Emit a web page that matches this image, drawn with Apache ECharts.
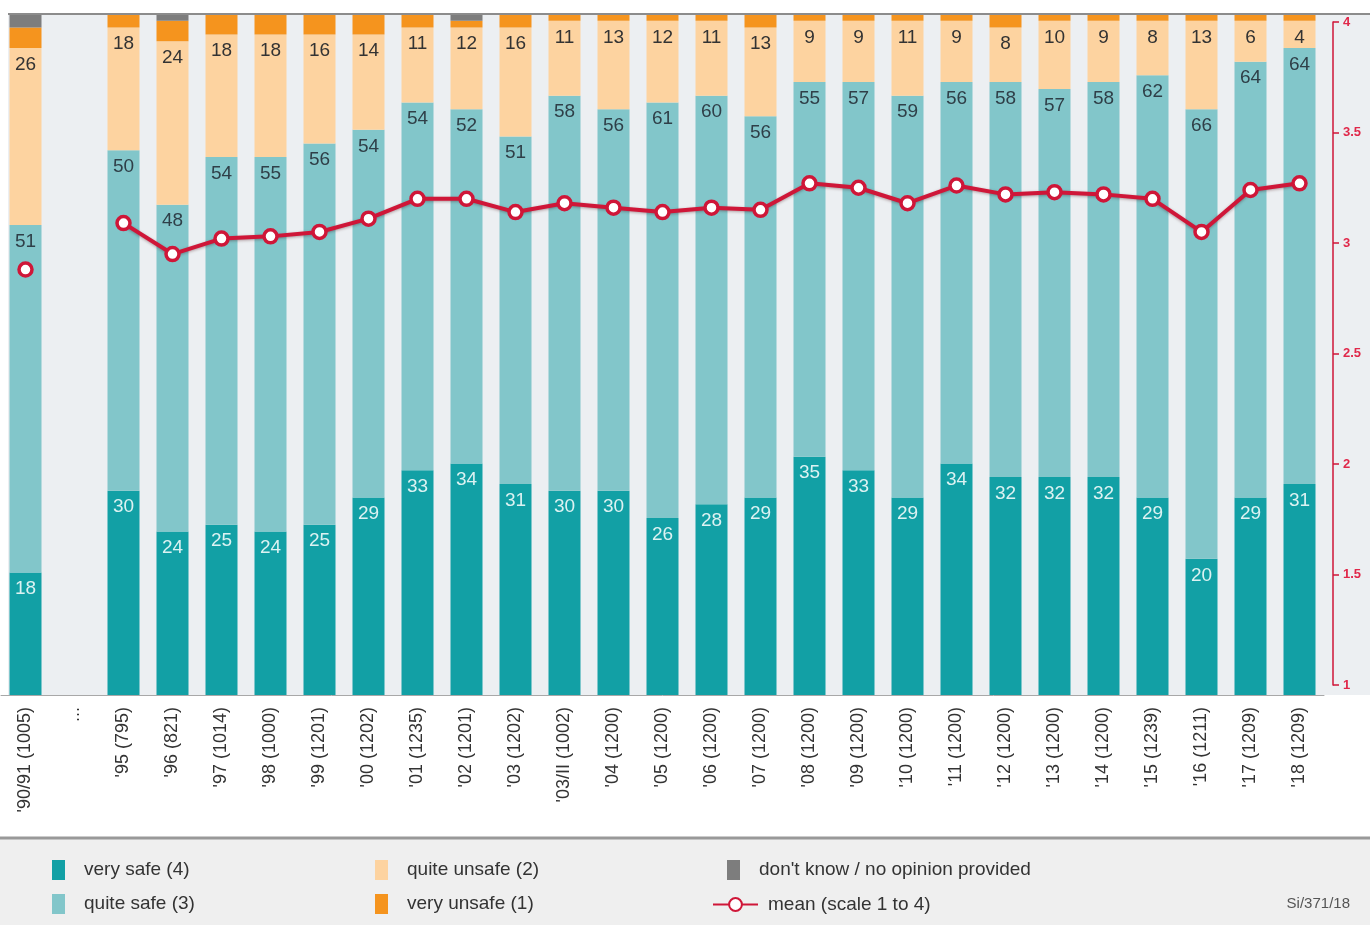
<!DOCTYPE html>
<html>
<head>
<meta charset="utf-8">
<script src="https://cdn.jsdelivr.net/npm/echarts@6/dist/echarts.min.js"></script>
<style>
  html, body { margin: 0; padding: 0; background: #fff; }
</style>
</head>
<body>
<div id="main" style="width: 1370px; height: 925px"></div>
<script>
// survey waves (sample size in brackets)
var categories = ["'90/91 (1005)", '...', "'95 (795)", "'96 (821)", "'97 (1014)", "'98 (1000)", "'99 (1201)",
  "'00 (1202)", "'01 (1235)", "'02 (1201)", "'03 (1202)", "'03/II (1002)", "'04 (1200)", "'05 (1200)",
  "'06 (1200)", "'07 (1200)", "'08 (1200)", "'09 (1200)", "'10 (1200)", "'11 (1200)", "'12 (1200)",
  "'13 (1200)", "'14 (1200)", "'15 (1239)", "'16 (1211)", "'17 (1209)", "'18 (1209)"]

var verySafe    = [18, null, 30, 24, 25, 24, 25, 29, 33, 34, 31, 30, 30, 26, 28, 29, 35, 33, 29, 34, 32, 32, 32, 29, 20, 29, 31]
var quiteSafe   = [51, null, 50, 48, 54, 55, 56, 54, 54, 52, 51, 58, 56, 61, 60, 56, 55, 57, 59, 56, 58, 57, 58, 62, 66, 64, 64]
var quiteUnsafe = [26, null, 18, 24, 18, 18, 16, 14, 11, 12, 16, 11, 13, 12, 11, 13, 9, 9, 11, 9, 8, 10, 9, 8, 13, 6, 4]
var veryUnsafe  = [3, null, 2, 3, 3, 3, 3, 3, 2, 1, 2, 1, 1, 1, 1, 2, 1, 1, 1, 1, 2, 1, 1, 1, 1, 1, 1]
var dontKnow    = [2, null, 0, 1, 0, 0, 0, 0, 0, 1, 0, 0, 0, 0, 0, 0, 0, 0, 0, 0, 0, 0, 0, 0, 0, 0, 0]
// mean on scale 1 to 4
var meanScore   = [2.88, null, 3.09, 2.95, 3.02, 3.03, 3.05, 3.11, 3.20, 3.20, 3.14, 3.18, 3.16, 3.14, 3.16,
  3.15, 3.27, 3.25, 3.18, 3.26, 3.22, 3.23, 3.22, 3.20, 3.05, 3.24, 3.27]

var FONT = 'Liberation Sans'
var RED = '#cf1638'

const myChart = echarts.init(document.getElementById('main'))

function barSeries(name, data, color, label) {
  return {
    name: name,
    type: 'bar',
    stack: 'total',
    xAxisIndex: 0,
    yAxisIndex: 0,
    barWidth: 32,
    data: data,
    itemStyle: { color: color },
    label: label ? {
      show: true,
      position: 'insideTop',
      distance: 7,
      fontFamily: FONT,
      fontSize: 19,
      color: label
    } : { show: false },
    emphasis: { disabled: true }
  }
}

var legendText = { fontFamily: FONT, fontSize: 19, color: '#333', padding: [0, 0, 0, 14] }

var option = {
  animation: false,
  backgroundColor: '#fff',
  textStyle: { fontFamily: FONT },
  graphic: [
    { type: 'rect', z: -10, shape: { x: 8, y: 14, width: 1362, height: 681 }, style: { fill: '#eceff2' } },
    { type: 'line', z: 10, shape: { x1: 8, y1: 14, x2: 1370, y2: 14 }, style: { stroke: '#8c8c8c', lineWidth: 2 } },
    { type: 'rect', z: -10, shape: { x: 0, y: 838, width: 1370, height: 87 }, style: { fill: '#efefef' } },
    { type: 'line', z: -9, shape: { x1: 0, y1: 838, x2: 1370, y2: 838 }, style: { stroke: '#999', lineWidth: 3 } },
    { type: 'text', right: 20, top: 896, style: { text: 'Si/371/18', fontFamily: FONT, fontSize: 15, fill: '#555' } }
  ],
  grid: [
    { left: 1, right: 46, top: 14, bottom: 230 },
    { left: 1, right: 46, top: 22, bottom: 240 }
  ],
  legend: [
    { left: 47, top: 855, orient: 'vertical', itemGap: 14, itemWidth: 13, itemHeight: 20, icon: 'rect',
      data: ['very safe (4)', 'quite safe (3)'], textStyle: legendText, selectedMode: false },
    { left: 370, top: 855, orient: 'vertical', itemGap: 14, itemWidth: 13, itemHeight: 20, icon: 'rect',
      data: ['quite unsafe (2)', 'very unsafe (1)'], textStyle: legendText, selectedMode: false },
    { left: 722, top: 855, itemWidth: 13, itemHeight: 20, icon: 'rect',
      data: ["don't know / no opinion provided"], textStyle: legendText, selectedMode: false },
    { left: 707, top: 890, itemWidth: 45, itemHeight: 16,
      data: ['mean (scale 1 to 4)'], textStyle: { fontFamily: FONT, fontSize: 19, color: '#333', padding: [0, 0, 0, 5] },
      selectedMode: false }
  ],
  xAxis: [
    {
      type: 'category', gridIndex: 0, data: categories,
      axisLine: { lineStyle: { color: '#a8a8a8', width: 1 } },
      axisTick: { show: false },
      axisLabel: { rotate: 90, margin: 12, fontFamily: FONT, fontSize: 18, color: '#333', interval: 0 }
    },
    { type: 'category', gridIndex: 1, data: categories, show: false }
  ],
  yAxis: [
    { type: 'value', gridIndex: 0, min: 0, max: 100, show: false },
    {
      type: 'value', gridIndex: 1, min: 1, max: 4, interval: 0.5, position: 'right', offset: 9,
      splitLine: { show: false },
      axisLine: { show: true, lineStyle: { color: RED, width: 1.5 } },
      axisTick: { show: true, length: 6, lineStyle: { color: RED, width: 1.5 } },
      axisLabel: { margin: 10, fontFamily: FONT, fontSize: 13, fontWeight: 'bold', color: '#e0284a' }
    }
  ],
  series: [
    barSeries('very safe (4)', verySafe, '#12a0a5', '#dcf2f2'),
    barSeries('quite safe (3)', quiteSafe, '#82c6ca', '#2f3f48'),
    barSeries('quite unsafe (2)', quiteUnsafe, '#fdd3a0', '#333'),
    barSeries('very unsafe (1)', veryUnsafe, '#f5941e', null),
    barSeries("don't know / no opinion provided", dontKnow, '#7d7d7d', null),
    {
      name: 'mean (scale 1 to 4)',
      type: 'line',
      xAxisIndex: 1,
      yAxisIndex: 1,
      data: meanScore,
      connectNulls: false,
      symbol: 'circle',
      symbolSize: 13,
      lineStyle: { color: RED, width: 4, shadowColor: 'rgba(60,0,10,0.35)', shadowBlur: 3, shadowOffsetY: 1 },
      itemStyle: { color: '#fff', borderColor: RED, borderWidth: 3.5 },
      z: 5
    }
  ]
};
myChart.setOption(option);
</script>
</body>
</html>
